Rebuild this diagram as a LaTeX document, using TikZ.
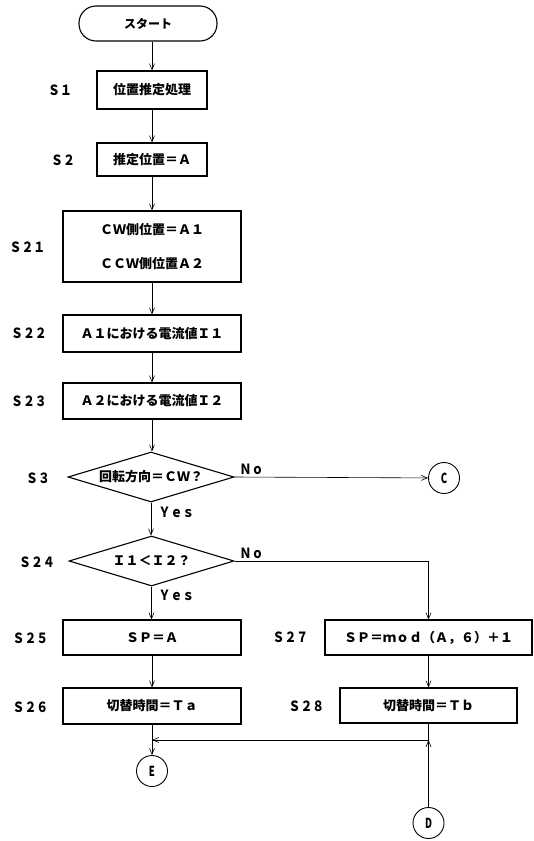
\documentclass[tikz,border=0pt]{standalone}
\usepackage{fontspec}
\setmainfont{Noto Sans CJK JP}
\usetikzlibrary{arrows.meta,shapes.geometric}
\tikzset{
  box/.style={draw, line width=1.1pt, inner sep=0pt, font=\fontsize{13}{15}\selectfont\bfseries},
  dia/.style={draw, diamond, line width=1.1pt, inner sep=0pt, aspect=3.3, font=\fontsize{13}{15}\selectfont\bfseries},
  conn/.style={draw, line width=0.9pt, inner sep=0pt, circle, minimum size=31pt, font=\fontsize{12}{14}\selectfont\bfseries},
  lbl/.style={font=\fontsize{14}{16}\selectfont\bfseries, inner sep=0pt},
  flow/.style={line width=0.6pt, -{Straight Barb[length=6pt,width=5pt,line width=0.6pt]}},
  plain/.style={line width=0.6pt}
}
\newcommand{\tallchar}[1]{\scalebox{0.8}[1.15]{#1}}
\newcommand{\lbltxt}[1]{\scalebox{0.85}[1]{#1}}
\begin{document}
\begin{tikzpicture}[x=1pt,y=-1pt]
\useasboundingbox (0,0) rectangle (533,841);
% nodes
\node[draw, line width=1.1pt, rounded corners=17pt, minimum width=138pt, minimum height=35pt, inner sep=0pt, font=\fontsize{12}{14}\selectfont\bfseries] (start) at (148,23.5) {スタート};
\node[box, minimum width=110pt, minimum height=38pt] (s1) at (152,90) {位置推定処理};
\node[box, minimum width=110pt, minimum height=33pt] (s2) at (152,159.5) {推定位置＝Ａ};
\node[box, minimum width=178pt, minimum height=71pt, align=center, font=\fontsize{13}{34}\selectfont\bfseries] (s21) at (152,246.5) {ＣＷ側位置＝Ａ１\\ＣＣＷ側位置Ａ２};
\node[box, minimum width=178pt, minimum height=37pt] (s22) at (152,333.5) {Ａ１における電流値Ｉ１};
\node[box, minimum width=178pt, minimum height=36pt] (s23) at (152,401) {Ａ２における電流値Ｉ２};
\node[dia, minimum width=166pt, minimum height=50pt] (s3) at (151,477) {回転方向＝ＣＷ？};
\node[conn] (c) at (444,478) {\tallchar{C}};
\node[dia, minimum width=165pt, minimum height=50pt] (s24) at (151.5,561) {Ｉ１＜Ｉ２？};
\node[box, minimum width=178pt, minimum height=35pt] (s25) at (152,637.5) {ＳＰ＝Ａ};
\node[box, minimum width=207pt, minimum height=35pt] (s27) at (428.5,637.5) {ＳＰ＝ｍｏｄ（Ａ，６）＋１};
\node[box, minimum width=178pt, minimum height=36pt] (s26) at (152,706) {切替時間＝Ｔａ};
\node[box, minimum width=177pt, minimum height=35pt] (s28) at (428.5,705.5) {切替時間＝Ｔｂ};
\coordinate (m) at (428.5,740);
\node[conn] (e) at (152,771) {\tallchar{E}};
\node[conn] (d) at (428.5,823) {\tallchar{D}};
% step labels
\node[lbl] (l1) at (60,90) {\lbltxt{Ｓ１}};
\node[lbl] (l2) at (63,160) {\lbltxt{Ｓ２}};
\node[lbl] (l21) at (27.5,247) {\lbltxt{Ｓ２１}};
\node[lbl] (l22) at (29,333) {\lbltxt{Ｓ２２}};
\node[lbl] (l23) at (29,401) {\lbltxt{Ｓ２３}};
\node[lbl] (l3) at (38,478) {\lbltxt{Ｓ３}};
\node[lbl] (l24) at (37,562) {\lbltxt{Ｓ２４}};
\node[lbl] (l25) at (30.5,638) {\lbltxt{Ｓ２５}};
\node[lbl] (l26) at (30.5,707) {\lbltxt{Ｓ２６}};
\node[lbl] (l27) at (290.5,637) {\lbltxt{Ｓ２７}};
\node[lbl] (l28) at (306.5,706) {\lbltxt{Ｓ２８}};
\node[lbl] (no1) at (251.5,469) {\lbltxt{Ｎｏ}};
\node[lbl] (yes1) at (176.5,512) {\lbltxt{Ｙｅｓ}};
\node[lbl] (no2) at (251.5,553) {\lbltxt{Ｎｏ}};
\node[lbl] (yes2) at (176.5,595) {\lbltxt{Ｙｅｓ}};
% connectors
\draw[flow] (start.south -| s1) -- (s1);
\draw[flow] (s1) -- (s2);
\draw[flow] (s2) -- (s21);
\draw[flow] (s21) -- (s22);
\draw[flow] (s22) -- (s23);
\draw[flow] (s23.south) -- (s23.south |- s3.north);
\draw[flow] (s3.east) -- (c);
\draw[flow] (s3.south) -- (s3.south |- s24.north);
\draw[flow] (s24.east) -| (s27.north);
\draw[flow] (s24.south) -- (s24.south |- s25.north);
\draw[flow] (s25) -- (s26);
\draw[flow] (s27) -- (s28);
\draw[flow] (s26) -- (e);
\draw[plain] (s28.south) -- (m);
\draw[flow] (d) -- (m);
\draw[flow] (m) -- (m -| e);
\end{tikzpicture}
\end{document}
